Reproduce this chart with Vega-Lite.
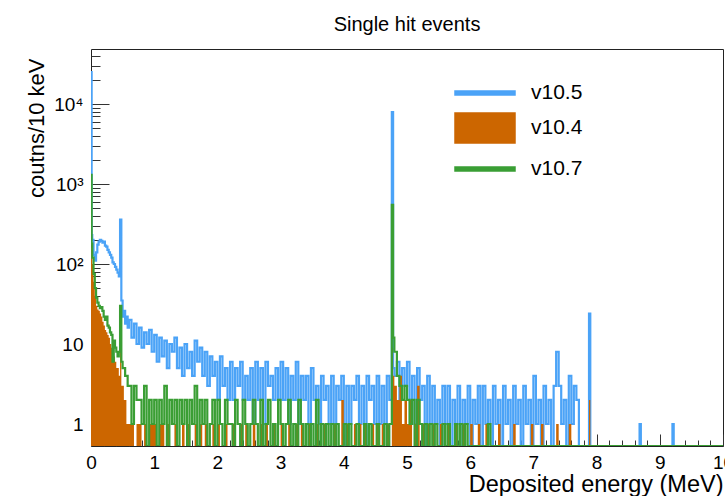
{
"$schema": "https://vega.github.io/schema/vega-lite/v6.json",
"width": 632, "height": 397,
"autosize": "none",
"padding": {"left": 91, "top": 49, "right": 2, "bottom": 50},
"background": "white",
"title": {"text": "Single hit events", "fontSize": 20, "fontWeight": "normal", "font": "Liberation Sans", "color": "#000", "anchor": "middle", "baseline": "alphabetic", "offset": -2, "frame": "group"},
"config": {"font": "Liberation Sans", "view": {"stroke": "#222", "strokeWidth": 1}, "axis": {"zindex": 1, "domain": false, "grid": false, "tickColor": "#333", "tickWidth": 1, "labelColor": "#000", "labelFontSize": 19, "labelFlush": false, "labelOverlap": false, "labelBound": false, "titleColor": "#000", "titleFontWeight": "normal"}},
"data": {"values": [
{"e":0,"b":25000,"o":1000,"g":1300},{"e":0.01,"b":230,"o":160,"g":180},{"e":0.02,"b":200,"o":100,"g":120},{"e":0.04,"b":130,"o":60,"g":75},{"e":0.06,"b":110,"o":40,"g":50},{"e":0.08,"b":140,"o":30,"g":38},{"e":0.1,"b":175,"o":27,"g":33},{"e":0.12,"b":190,"o":26,"g":30},{"e":0.14,"b":200,"o":24,"g":28},{"e":0.16,"b":195,"o":22,"g":29},{"e":0.18,"b":185,"o":19,"g":26},{"e":0.2,"b":190,"o":17,"g":22},{"e":0.22,"b":170,"o":15,"g":20},{"e":0.24,"b":165,"o":14,"g":22},{"e":0.26,"b":150,"o":13,"g":17},{"e":0.28,"b":140,"o":12,"g":16},{"e":0.3,"b":130,"o":10,"g":14},{"e":0.32,"b":120,"o":9,"g":13},{"e":0.34,"b":105,"o":8,"g":6},{"e":0.36,"b":100,"o":7,"g":11},{"e":0.38,"b":92,"o":6,"g":9},{"e":0.4,"b":85,"o":5,"g":8},{"e":0.42,"b":78,"o":5,"g":7},{"e":0.44,"b":70,"o":4,"g":8},{"e":0.46,"b":360,"o":28,"g":30},{"e":0.48,"b":35,"o":3,"g":6},{"e":0.5,"b":22,"o":3,"g":5},{"e":0.52,"b":26,"o":2,"g":5},{"e":0.54,"b":18,"o":2,"g":4},{"e":0.56,"b":22,"o":1,"g":4},{"e":0.58,"b":16,"o":1,"g":3},
{"e":0.6,"b":20,"o":1,"g":3},{"e":0.64,"b":12,"o":1,"g":1},{"e":0.68,"b":18,"o":0,"g":3},{"e":0.72,"b":10,"o":1,"g":2},{"e":0.76,"b":16,"o":1,"g":2},{"e":0.8,"b":9,"o":0,"g":1},{"e":0.84,"b":14,"o":1,"g":3},{"e":0.88,"b":10,"o":0,"g":0},{"e":0.92,"b":15,"o":1,"g":2},{"e":0.96,"b":8,"o":1,"g":1},
{"e":1,"b":13,"o":1,"g":2},{"e":1.04,"b":6,"o":0,"g":0},{"e":1.08,"b":12,"o":1,"g":2},{"e":1.12,"b":7,"o":1,"g":1},{"e":1.16,"b":11,"o":0,"g":3},{"e":1.2,"b":5,"o":1,"g":0},{"e":1.24,"b":10,"o":0,"g":2},{"e":1.28,"b":8,"o":0,"g":1},{"e":1.32,"b":12,"o":1,"g":2},{"e":1.36,"b":5,"o":0,"g":0},
{"e":1.4,"b":9,"o":0,"g":2},{"e":1.44,"b":4,"o":1,"g":1},{"e":1.48,"b":10,"o":0,"g":2},{"e":1.52,"b":5,"o":1,"g":0},{"e":1.56,"b":8,"o":0,"g":2},{"e":1.6,"b":4,"o":0,"g":1},{"e":1.64,"b":11,"o":1,"g":3},{"e":1.68,"b":6,"o":0,"g":0},{"e":1.72,"b":9,"o":1,"g":2},{"e":1.76,"b":4,"o":0,"g":1},
{"e":1.8,"b":8,"o":1,"g":2},{"e":1.84,"b":3,"o":0,"g":0},{"e":1.88,"b":7,"o":0,"g":1},{"e":1.92,"b":4,"o":1,"g":2},{"e":1.96,"b":6,"o":0,"g":0},{"e":2,"b":2,"o":1,"g":2},{"e":2.04,"b":7,"o":0,"g":1},{"e":2.08,"b":3,"o":0,"g":0},{"e":2.12,"b":5,"o":1,"g":2},{"e":2.16,"b":2,"o":0,"g":1},
{"e":2.2,"b":6,"o":0,"g":1},{"e":2.24,"b":2,"o":1,"g":0},{"e":2.28,"b":5,"o":0,"g":2},{"e":2.32,"b":3,"o":0,"g":1},{"e":2.36,"b":6,"o":1,"g":0},{"e":2.4,"b":2,"o":0,"g":2},{"e":2.44,"b":4,"o":1,"g":1},{"e":2.48,"b":2,"o":0,"g":0},{"e":2.52,"b":5,"o":0,"g":1},{"e":2.56,"b":1,"o":1,"g":2},
{"e":2.6,"b":6,"o":0,"g":1},{"e":2.64,"b":2,"o":0,"g":0},{"e":2.68,"b":5,"o":1,"g":2},{"e":2.72,"b":1,"o":0,"g":0},{"e":2.76,"b":6,"o":1,"g":1},{"e":2.8,"b":3,"o":0,"g":2},{"e":2.84,"b":4,"o":0,"g":0},{"e":2.88,"b":2,"o":1,"g":1},{"e":2.92,"b":5,"o":0,"g":0},{"e":2.96,"b":2,"o":0,"g":2},
{"e":3,"b":6,"o":1,"g":1},{"e":3.04,"b":2,"o":0,"g":0},{"e":3.08,"b":5,"o":0,"g":1},{"e":3.12,"b":1,"o":1,"g":2},{"e":3.16,"b":4,"o":0,"g":0},{"e":3.2,"b":2,"o":0,"g":1},{"e":3.24,"b":6,"o":1,"g":0},{"e":3.28,"b":1,"o":0,"g":2},{"e":3.32,"b":4,"o":1,"g":1},{"e":3.36,"b":2,"o":0,"g":0},
{"e":3.4,"b":4,"o":0,"g":1},{"e":3.44,"b":1,"o":1,"g":0},{"e":3.48,"b":5,"o":0,"g":1},{"e":3.52,"b":2,"o":0,"g":0},{"e":3.56,"b":3,"o":1,"g":2},{"e":3.6,"b":1,"o":0,"g":0},{"e":3.64,"b":4,"o":0,"g":1},{"e":3.68,"b":2,"o":1,"g":0},{"e":3.72,"b":3,"o":0,"g":1},{"e":3.76,"b":1,"o":0,"g":0},
{"e":3.8,"b":4,"o":0,"g":1},{"e":3.84,"b":1,"o":1,"g":0},{"e":3.88,"b":3,"o":0,"g":1},{"e":3.92,"b":2,"o":0,"g":0},{"e":3.96,"b":4,"o":2,"g":0},{"e":4,"b":0,"o":0,"g":1},{"e":4.04,"b":3,"o":1,"g":0},{"e":4.08,"b":1,"o":0,"g":1},{"e":4.12,"b":3,"o":0,"g":0},{"e":4.16,"b":2,"o":1,"g":0},
{"e":4.2,"b":4,"o":0,"g":1},{"e":4.24,"b":1,"o":1,"g":0},{"e":4.28,"b":3,"o":0,"g":0},{"e":4.32,"b":0,"o":1,"g":1},{"e":4.36,"b":4,"o":0,"g":0},{"e":4.4,"b":2,"o":0,"g":1},{"e":4.44,"b":3,"o":1,"g":0},{"e":4.48,"b":1,"o":0,"g":0},{"e":4.52,"b":4,"o":1,"g":1},{"e":4.56,"b":1,"o":0,"g":0},
{"e":4.6,"b":3,"o":1,"g":0},{"e":4.64,"b":1,"o":0,"g":1},{"e":4.68,"b":4,"o":1,"g":0},{"e":4.72,"b":2,"o":0,"g":1},{"e":4.76,"b":7900,"o":9,"g":550},{"e":4.78,"b":5,"o":4,"g":12},{"e":4.8,"b":4,"o":3,"g":8},{"e":4.84,"b":6,"o":2,"g":4},{"e":4.88,"b":2,"o":4,"g":3},{"e":4.92,"b":5,"o":1,"g":2},{"e":4.96,"b":3,"o":2,"g":3},
{"e":5,"b":6,"o":1,"g":2},{"e":5.04,"b":2,"o":2,"g":1},{"e":5.08,"b":4,"o":0,"g":2},{"e":5.12,"b":1,"o":1,"g":0},{"e":5.16,"b":5,"o":3,"g":2},{"e":5.2,"b":2,"o":0,"g":1},{"e":5.24,"b":3,"o":1,"g":0},{"e":5.28,"b":0,"o":0,"g":1},{"e":5.32,"b":4,"o":1,"g":0},{"e":5.36,"b":1,"o":0,"g":1},
{"e":5.4,"b":3,"o":1,"g":0},{"e":5.44,"b":1,"o":0,"g":1},{"e":5.48,"b":2,"o":0,"g":0},{"e":5.52,"b":0,"o":1,"g":0},{"e":5.56,"b":3,"o":0,"g":1},{"e":5.6,"b":1,"o":0,"g":0},{"e":5.64,"b":3,"o":1,"g":1},{"e":5.68,"b":0,"o":0,"g":0},{"e":5.72,"b":2,"o":0,"g":0},{"e":5.76,"b":1,"o":1,"g":1},
{"e":5.8,"b":3,"o":0,"g":0},{"e":5.84,"b":0,"o":0,"g":1},{"e":5.88,"b":2,"o":1,"g":0},{"e":5.92,"b":1,"o":0,"g":1},{"e":5.96,"b":3,"o":0,"g":0},{"e":6,"b":0,"o":1,"g":0},{"e":6.04,"b":2,"o":0,"g":0},{"e":6.08,"b":1,"o":0,"g":0},{"e":6.12,"b":3,"o":1,"g":0},{"e":6.16,"b":0,"o":0,"g":0},
{"e":6.2,"b":3,"o":0,"g":0},{"e":6.24,"b":1,"o":1,"g":0},{"e":6.28,"b":2,"o":0,"g":1},{"e":6.32,"b":0,"o":0,"g":0},{"e":6.36,"b":3,"o":0,"g":0},{"e":6.4,"b":1,"o":0,"g":0},{"e":6.44,"b":2,"o":1,"g":0},{"e":6.48,"b":0,"o":0,"g":0},{"e":6.52,"b":3,"o":0,"g":0},{"e":6.56,"b":1,"o":0,"g":0},
{"e":6.6,"b":2,"o":0,"g":0},{"e":6.64,"b":0,"o":0,"g":0},{"e":6.68,"b":3,"o":1,"g":0},{"e":6.72,"b":1,"o":0,"g":0},{"e":6.76,"b":2,"o":0,"g":0},{"e":6.8,"b":0,"o":0,"g":0},{"e":6.84,"b":3,"o":0,"g":0},{"e":6.88,"b":1,"o":0,"g":0},{"e":6.92,"b":2,"o":0,"g":0},{"e":6.96,"b":0,"o":1,"g":0},
{"e":7,"b":4,"o":0,"g":0},{"e":7.04,"b":1,"o":0,"g":0},{"e":7.08,"b":2,"o":0,"g":0},{"e":7.12,"b":0,"o":1,"g":0},{"e":7.16,"b":3,"o":0,"g":0},{"e":7.2,"b":1,"o":0,"g":0},{"e":7.24,"b":2,"o":0,"g":0},{"e":7.28,"b":0,"o":0,"g":0},{"e":7.32,"b":3,"o":0,"g":0},{"e":7.36,"b":8,"o":1,"g":0},
{"e":7.4,"b":3,"o":0,"g":0},{"e":7.44,"b":1,"o":0,"g":0},{"e":7.48,"b":2,"o":0,"g":0},{"e":7.52,"b":0,"o":0,"g":0},{"e":7.56,"b":4,"o":1,"g":0},{"e":7.6,"b":1,"o":0,"g":0},{"e":7.64,"b":3,"o":0,"g":0},{"e":7.68,"b":2,"o":0,"g":0},{"e":7.72,"b":0,"o":0,"g":0},{"e":7.76,"b":0,"o":0,"g":0},
{"e":7.8,"b":0,"o":0,"g":0},{"e":7.84,"b":0,"o":0,"g":0},{"e":7.88,"b":24,"o":2,"g":0},{"e":7.9,"b":0,"o":0,"g":0},{"e":7.96,"b":0,"o":0,"g":0},
{"e":8,"b":0,"o":0,"g":0},{"e":8.68,"b":1,"o":0,"g":0},{"e":8.7,"b":0,"o":0,"g":0},{"e":9.2,"b":1,"o":0,"g":0},{"e":9.22,"b":0,"o":0,"g":0},{"e":10,"b":0,"o":0,"g":0}
]},
"transform": [{"fold": ["b", "o", "g"], "as": ["s", "c"]}],
"encoding": {
  "color": {"field": "s", "type": "nominal",
   "scale": {"domain": ["b", "o", "g"], "range": ["#4ba3f7", "#cc6600", "#3a9e34"]},
   "legend": {"orient": "none", "legendX": 378, "legendY": 28, "title": null, "symbolSize": 900, "labelFontSize": 21, "labelColor": "#000", "labelOffset": 30, "rowPadding": 7, "padding": 0,
    "labelExpr": "datum.value == 'b' ? 'v10.5' : datum.value == 'o' ? 'v10.4' : 'v10.7'",
    "encode": {"symbols": {"update": {"shape": {"signal": "datum.value === 'o' ? 'M-2,-1H2V1H-2Z' : 'M-2,-0.13H2V0.13H-2Z'"}, "fill": {"scale": "color", "field": "value"}, "stroke": {"value": "transparent"}, "opacity": {"value": 1}, "fillOpacity": {"value": 1}}}}}}
},
"resolve": {"axis": {"x": "independent", "y": "independent"}},
"layer": [
{"transform": [{"filter": "datum.s == 'b'"}], "mark": {"type": "line", "interpolate": "step-after", "strokeWidth": 2.2, "invalid": "show", "clip": true},
 "encoding": {
  "x": {"field": "e", "type": "quantitative", "title": "Deposited energy (MeV)",
   "scale": {"domain": [0, 10], "nice": false, "zero": false},
   "axis": {"orient": "bottom", "values": [0,1,2,3,4,5,6,7,8,9,10], "format": "d", "tickSize": -12, "labelPadding": 19,
    "titleFontSize": 23.5, "titleAlign": "right", "titleBaseline": "alphabetic", "titleX": 632, "titleY": 45}},
  "y": {"field": "c", "type": "quantitative", "title": "coutns/10 keV",
   "scale": {"type": "log", "domain": [0.531, 48700], "clamp": true, "nice": false},
   "axis": {"orient": "left", "values": [1,10,100,1000,10000], "tickSize": -18, "labelPadding": 26,
    "labelExpr": "datum.value == 1 ? '1' : datum.value == 10 ? '10' : datum.value == 100 ? '10²' : datum.value == 1000 ? '10³' : '10⁴'",
    "titleFontSize": 22, "titleAngle": 270, "titleAlign": "right", "titleBaseline": "middle", "titleX": -55, "titleY": 9}}
 }},
{"transform": [{"filter": "datum.s == 'o'"}], "mark": {"type": "area", "interpolate": "step-after", "invalid": "show", "clip": true, "opacity": 1},
 "encoding": {
  "x": {"field": "e", "type": "quantitative",
   "axis": {"orient": "bottom", "values": [0.2,0.4,0.6,0.8,1.2,1.4,1.6,1.8,2.2,2.4,2.6,2.8,3.2,3.4,3.6,3.8,4.2,4.4,4.6,4.8,5.2,5.4,5.6,5.8,6.2,6.4,6.6,6.8,7.2,7.4,7.6,7.8,8.2,8.4,8.6,8.8,9.2,9.4,9.6,9.8], "tickSize": -6, "labels": false, "title": null}},
  "y": {"field": "c", "type": "quantitative",
   "axis": {"orient": "left", "values": [0.6,0.7,0.8,0.9,2,3,4,5,6,7,8,9,20,30,40,50,60,70,80,90,200,300,400,500,600,700,800,900,2000,3000,4000,5000,6000,7000,8000,9000,20000,30000,40000], "tickSize": -9, "labels": false, "title": null}}
 }},
{"transform": [{"filter": "datum.s == 'g'"}], "mark": {"type": "line", "interpolate": "step-after", "strokeWidth": 2.2, "invalid": "show", "clip": true},
 "encoding": {
  "x": {"field": "e", "type": "quantitative", "axis": null},
  "y": {"field": "c", "type": "quantitative", "axis": null}
 }}
]
}
